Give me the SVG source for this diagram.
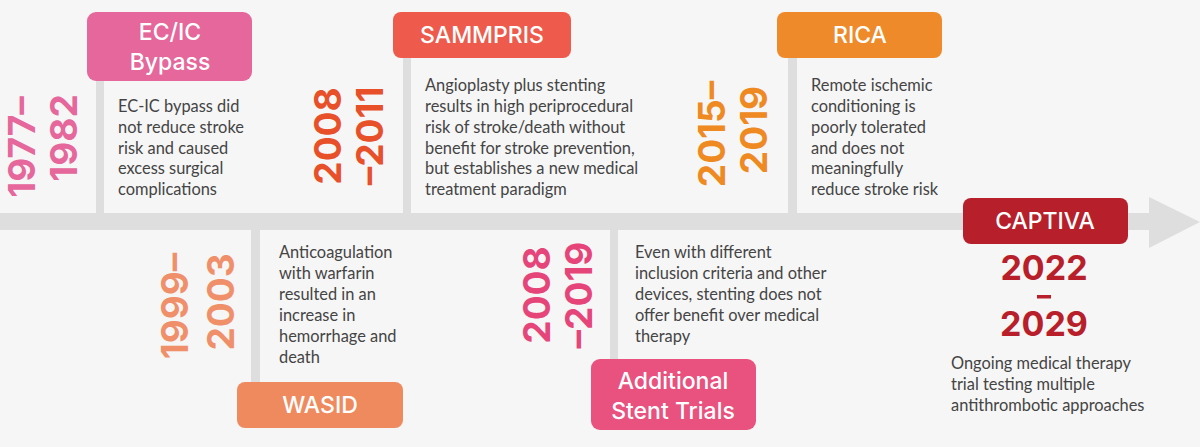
<svg xmlns="http://www.w3.org/2000/svg" width="1200" height="447" viewBox="0 0 1200 447">
<style>
.title{font-family:Inter,"Open Sans",sans-serif;font-weight:500;font-size:23px;fill:#fff;text-anchor:middle}
.body{font-family:Lato,"Open Sans",sans-serif;font-size:16.4px;fill:#444}
.yr{font-family:Inter,"Open Sans",sans-serif;font-weight:700;font-size:37px;text-anchor:middle;dominant-baseline:central}
.cy{font-family:Inter,"Open Sans",sans-serif;font-weight:700;font-size:34px;text-anchor:middle;fill:#b81f2a}
.stem{fill:#dedede}
</style>
<rect width="1200" height="447" fill="#f6f6f6"/>
<g id="connectors">
<rect class="stem" x="0" y="213" width="1152" height="17"/>
<polygon class="stem" points="1149,197 1200,222 1149,248"/>
<rect class="stem" x="96" y="80" width="8" height="134"/>
<rect class="stem" x="403" y="57" width="8" height="157"/>
<rect class="stem" x="788" y="57" width="9" height="157"/>
<rect class="stem" x="251" y="229" width="9" height="154"/>
<rect class="stem" x="610" y="229" width="8" height="131"/>
</g>
<g id="ecic">
<rect x="87" y="12" width="165" height="69" rx="9" fill="#e5679b"/>
<text class="title" x="170" y="40">EC/IC</text>
<text class="title" x="170" y="70">Bypass</text>
<text class="yr" fill="#e5679b" transform="translate(21,147) rotate(-90)">1977–</text>
<text class="yr" fill="#e5679b" transform="translate(63,138) rotate(-90)">1982</text>
<text class="body" x="118" y="112">EC-IC bypass did</text>
<text class="body" x="118" y="133">not reduce stroke</text>
<text class="body" x="118" y="154">risk and caused</text>
<text class="body" x="118" y="174">excess surgical</text>
<text class="body" x="118" y="195">complications</text>
</g>
<g id="sammpris">
<rect x="393" y="12" width="178" height="46" rx="8" fill="#ee5a4c"/>
<text class="title" x="482" y="43">SAMMPRIS</text>
<text class="yr" fill="#e8502a" transform="translate(327,136) rotate(-90)">2008</text>
<text class="yr" fill="#e8502a" transform="translate(369,136) rotate(-90)">–2011</text>
<text class="body" x="425" y="91">Angioplasty plus stenting</text>
<text class="body" x="425" y="112">results in high periprocedural</text>
<text class="body" x="425" y="133">risk of stroke/death without</text>
<text class="body" x="425" y="154">benefit for stroke prevention,</text>
<text class="body" x="425" y="174">but establishes a new medical</text>
<text class="body" x="425" y="195">treatment paradigm</text>
</g>
<g id="wasid">
<rect x="237" y="382" width="166" height="46" rx="8" fill="#ef8a5e"/>
<text class="title" x="320" y="413">WASID</text>
<text class="yr" fill="#f0906a" transform="translate(174,306) rotate(-90)">1999–</text>
<text class="yr" fill="#f0906a" transform="translate(220,302) rotate(-90)">2003</text>
<text class="body" x="279" y="258">Anticoagulation</text>
<text class="body" x="279" y="279">with warfarin</text>
<text class="body" x="279" y="300">resulted in an</text>
<text class="body" x="279" y="321">increase in</text>
<text class="body" x="279" y="342">hemorrhage and</text>
<text class="body" x="279" y="363">death</text>
</g>
<g id="additional">
<rect x="591" y="359" width="165" height="71" rx="9" fill="#e9517f"/>
<text class="title" x="673" y="389">Additional</text>
<text class="title" x="673" y="419">Stent Trials</text>
<text class="yr" fill="#e6457a" transform="translate(536,295) rotate(-90)">2008</text>
<text class="yr" fill="#e6457a" transform="translate(578,295) rotate(-90)">–2019</text>
<text class="body" x="635" y="258">Even with different</text>
<text class="body" x="635" y="279">inclusion criteria and other</text>
<text class="body" x="635" y="300">devices, stenting does not</text>
<text class="body" x="635" y="321">offer benefit over medical</text>
<text class="body" x="635" y="342">therapy</text>
</g>
<g id="rica">
<rect x="777" y="12" width="165" height="46" rx="8" fill="#ee8a2a"/>
<text class="title" x="860" y="43">RICA</text>
<text class="yr" fill="#ef8a22" transform="translate(711,134) rotate(-90)">2015–</text>
<text class="yr" fill="#ef8a22" transform="translate(753,130) rotate(-90)">2019</text>
<text class="body" x="811" y="91">Remote ischemic</text>
<text class="body" x="811" y="112">conditioning is</text>
<text class="body" x="811" y="133">poorly tolerated</text>
<text class="body" x="811" y="154">and does not</text>
<text class="body" x="811" y="174">meaningfully</text>
<text class="body" x="811" y="195">reduce stroke risk</text>
</g>
<g id="captiva">
<rect x="963" y="198" width="165" height="46" rx="8" fill="#b71f2b"/>
<text class="title" x="1045" y="229">CAPTIVA</text>
<text class="cy" x="1044" y="280">2022</text>
<rect x="1037" y="295" width="14" height="3.5" fill="#b81f2a"/>
<text class="cy" x="1044" y="336">2029</text>
<text class="body" x="951" y="369">Ongoing medical therapy</text>
<text class="body" x="951" y="390">trial testing multiple</text>
<text class="body" x="951" y="411">antithrombotic approaches</text>
</g>
</svg>
